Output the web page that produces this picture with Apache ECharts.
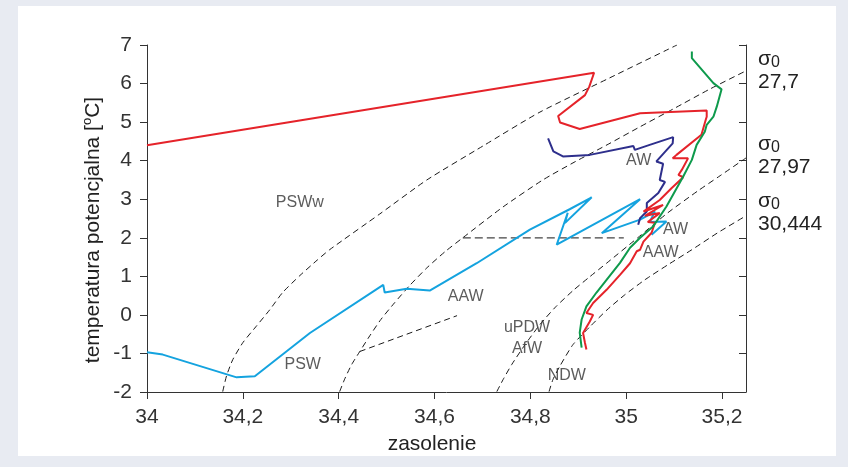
<!DOCTYPE html>
<html><head><meta charset="utf-8">
<script src="https://cdn.jsdelivr.net/npm/echarts@6/dist/echarts.min.js"></script>
<style>
html,body{margin:0;padding:0;background:#e8ebf2;}
#bg{position:absolute;left:18px;top:6px;width:818px;height:450px;background:#fff;}
#c{position:absolute;left:0;top:0;width:848px;height:467px;}
</style>
</head><body><div id="bg"></div><div id="c"></div>
<script>
// ---- axis ticks ----
const xTickValues = [34, 34.2, 34.4, 34.6, 34.8, 35, 35.2];
const xTickLabels = ['34', '34,2', '34,4', '34,6', '34,8', '35', '35,2'];
const yTickValues = [-2, -1, 0, 1, 2, 3, 4, 5, 6, 7];

// ---- profiles (salinity, potential temperature) ----
const redLine = [[34.000,4.40],[34.933,6.28],[34.923,5.92],[34.914,5.70],[34.858,5.16],[34.862,4.99],[34.903,4.82],[35.029,5.23],[35.168,5.30],[35.168,5.14],[35.166,5.06],[35.157,4.67],[35.105,4.15],[35.097,4.06],[35.129,4.06],[35.116,3.76],[35.109,3.63],[35.119,3.57],[35.095,3.29],[35.070,2.98],[35.036,2.68],[35.077,2.85],[35.039,2.57],[35.070,2.64],[35.045,2.41],[35.060,2.39],[35.053,2.13],[35.036,1.90],[35.029,1.69],[35.022,1.65],[35.008,1.34],[34.987,1.04],[34.959,0.65],[34.931,0.31],[34.917,0.05],[34.931,0.00],[34.924,-0.17],[34.910,-0.47],[34.914,-0.73],[34.917,-0.90]];
const greenLine = [[35.137,6.83],[35.137,6.66],[35.182,6.01],[35.199,5.85],[35.189,5.40],[35.182,5.14],[35.168,4.93],[35.164,4.75],[35.147,4.41],[35.137,4.02],[35.119,3.59],[35.084,2.81],[35.056,2.29],[35.029,2.00],[35.008,1.74],[34.987,1.35],[34.959,0.91],[34.938,0.58],[34.917,0.22],[34.907,-0.12],[34.903,-0.46],[34.907,-0.85]];
const purpleLine = [[34.837,4.58],[34.848,4.24],[34.868,4.11],[34.924,4.15],[35.015,4.38],[35.018,4.28],[35.049,4.41],[35.098,4.61],[35.097,4.45],[35.063,3.98],[35.077,3.92],[35.070,3.50],[35.081,3.45],[35.067,3.16],[35.043,2.90],[35.043,2.68],[35.029,2.51],[35.025,2.34]];
const blueLine = [[34.000,-0.97],[34.033,-1.03],[34.187,-1.62],[34.225,-1.59],[34.340,-0.47],[34.493,0.78],[34.496,0.58],[34.542,0.68],[34.590,0.63],[34.688,1.34],[34.799,2.21],[34.882,2.74],[34.928,3.05],[34.872,2.38],[34.878,2.65],[34.855,1.82],[35.029,3.00],[34.949,2.12],[35.029,2.47],[35.060,2.68],[35.049,2.41],[35.084,2.42],[35.053,2.08]];

// ---- isopycnals and guide lines ----
const iso1 = [[34.158,-1.99],[34.166,-1.58],[34.179,-1.16],[34.200,-0.72],[34.227,-0.31],[34.256,0.13],[34.283,0.58],[34.319,1.02],[34.356,1.43],[34.381,1.69],[34.486,2.62],[34.584,3.50],[34.701,4.38],[34.820,5.26],[34.966,6.15],[35.106,7.0]];
const iso2 = [[34.402,-1.99],[34.413,-1.65],[34.427,-1.29],[34.444,-0.95],[34.465,-0.54],[34.488,-0.12],[34.517,0.32],[34.548,0.76],[34.584,1.22],[34.622,1.64],[34.659,2.00],[34.743,2.80],[34.826,3.50],[34.893,3.97],[34.960,4.41],[35.029,4.88],[35.098,5.34],[35.175,5.86],[35.250,6.33]];
const iso3 = [[34.730,-1.99],[34.743,-1.68],[34.761,-1.29],[34.789,-0.77],[34.820,-0.25],[34.853,0.21],[34.889,0.63],[34.924,0.99],[34.960,1.35],[35.024,2.00],[35.087,2.65],[35.150,3.22],[35.196,3.61],[35.250,4.07]];
const iso4 = [[34.839,-1.99],[34.847,-1.68],[34.862,-1.32],[34.889,-0.77],[34.924,-0.31],[34.960,0.13],[34.997,0.52],[35.039,0.91],[35.087,1.30],[35.137,1.69],[35.191,2.13],[35.250,2.57]];
const shortGuide = [[34.444,-0.95],[34.647,-0.02]];
const horizGuide = [[34.659,2.0],[34.995,2.0]];

// ---- water mass labels ----
const waterLabels = ['PSWw','PSW','AAW','uPDW','AfW','NDW','AW','AW','AAW'];
const waterLabelPos = [[34.319,2.91],[34.325,-1.29],[34.665,0.47],[34.793,-0.33],[34.793,-0.88],[34.876,-1.58],[35.026,3.99],[35.103,2.21],[35.072,1.61]];

// ---- isopycnal captions ----
const sigmaValues = ['27,7', '27,97', '30,444'];

const FONT = 'Liberation Sans, Arial, sans-serif';
const AX = '#333';

function dashed(data, w, dash, color, sm) {
  return { type: 'line', data: data, symbol: 'none', smooth: sm === undefined ? 0.2 : sm, silent: true, z: 1,
    lineStyle: { color: color || '#1a1a1a', width: w || 1, type: dash || [6, 4] } };
}
function solid(data, color) {
  return { type: 'line', data: data, symbol: 'none', silent: true, z: 3,
    lineStyle: { color: color, width: 2 } };
}

const chart = echarts.init(document.getElementById('c'), null, { renderer: 'canvas' });

const sigmaGraphics = [];
const sigmaTop = [59, 144.4, 201];
sigmaValues.forEach((v, i) => {
  const y = sigmaTop[i];
  sigmaGraphics.push({ type: 'text', x: 758, y: y, style: { text: 'σ', font: '21px ' + FONT, fill: '#222', verticalAlign: 'middle', align: 'left' } });
  sigmaGraphics.push({ type: 'text', x: 771, y: y + 3.5, style: { text: '0', font: '16px ' + FONT, fill: '#222', verticalAlign: 'middle', align: 'left' } });
  sigmaGraphics.push({ type: 'text', x: 758, y: y + 23.3, style: { text: v, font: '21px ' + FONT, fill: '#222', verticalAlign: 'middle', align: 'left' } });
});

chart.setOption({
  animation: false,
  backgroundColor: 'transparent',
  textStyle: { fontFamily: FONT },
  grid: { left: 147, right: 102, top: 45, bottom: 75, containLabel: false },
  xAxis: {
    type: 'value', min: 34, max: 35.25,
    axisLine: { show: true, onZero: false, lineStyle: { color: AX, width: 1 } },
    axisTick: { show: true, length: 7, customValues: xTickValues, lineStyle: { color: AX } },
    axisLabel: { customValues: xTickValues, margin: 15, fontSize: 21, color: '#333', fontFamily: FONT,
      formatter: function (v) { let k = 0; xTickValues.forEach((t, i) => { if (Math.abs(t - v) < 1e-6) k = i; }); return xTickLabels[k]; } },
    splitLine: { show: false }
  },
  yAxis: [{
    type: 'value', min: -2, max: 7, interval: 1,
    axisLine: { show: true, onZero: false, lineStyle: { color: AX, width: 1 } },
    axisTick: { show: true, length: 7, lineStyle: { color: AX } },
    axisLabel: { margin: 15, fontSize: 21, color: '#333', fontFamily: FONT,
      formatter: function (v) { return String(yTickValues[yTickValues.indexOf(v)]); } },
    splitLine: { show: false }
  }, {
    type: 'value', min: -2, max: 7, interval: 1, position: 'right',
    axisLine: { show: true, onZero: false, lineStyle: { color: AX, width: 1 } },
    axisTick: { show: true, inside: true, length: 7, lineStyle: { color: AX } },
    axisLabel: { show: false },
    splitLine: { show: false }
  }],
  graphic: [
    { type: 'text', x: 93, y: 230, rotation: Math.PI / 2,
      style: { text: '{n|temperatura potencjalna [}{s|o}{n|C]}', align: 'center', verticalAlign: 'middle', fill: '#222',
        rich: { n: { fontSize: 21, fontFamily: FONT, fill: '#222', lineHeight: 24 },
                s: { fontSize: 13, fontFamily: FONT, fill: '#222', verticalAlign: 'top', lineHeight: 24 } } } },
    { type: 'text', x: 432, y: 444, style: { text: 'zasolenie', font: '21px ' + FONT, fill: '#222', align: 'center', verticalAlign: 'middle' } }
  ].concat(sigmaGraphics),
  series: [
    dashed(iso1), dashed(iso2), dashed(iso3), dashed(iso4), dashed(shortGuide, 1, [6, 4], '#1a1a1a', false),
    dashed(horizGuide, 1.2, [8, 4], '#444', false),
    solid(blueLine, '#14a3df'),
    solid(purpleLine, '#2e2f8c'),
    solid(redLine, '#e5232a'),
    solid(greenLine, '#0e9a4c'),
    { type: 'scatter', symbolSize: 0, silent: true, z: 5,
      data: waterLabelPos.map((p, i) => ({ value: p, name: waterLabels[i] })),
      label: { show: true, position: 'inside', formatter: '{b}', fontSize: 16, color: '#333', fontFamily: FONT } }
  ]
});
</script>
</body></html>
